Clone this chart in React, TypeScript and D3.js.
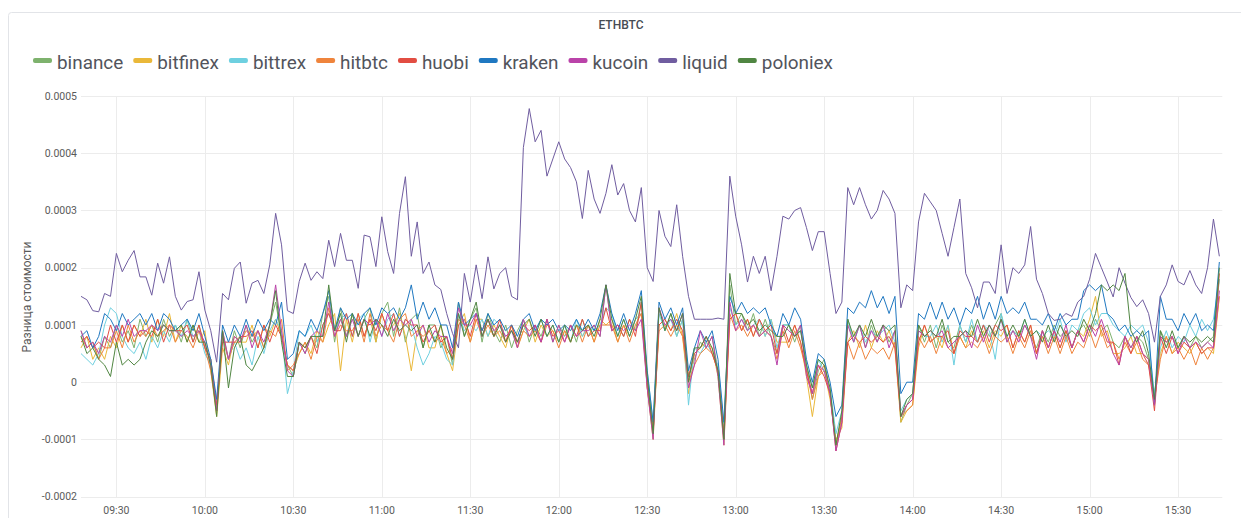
import React, { useEffect, useRef } from 'react';
import * as d3 from 'd3';

const W = 1241;
const H = 518;
const FONT = 'Roboto, "Helvetica Neue", Arial, sans-serif';

// sampled every 2 minutes from 09:18, values in units of 1e-5
const UNIT = 1e-5;
const startTime = new Date(2020, 0, 1, 9, 18);
const endTime = new Date(2020, 0, 1, 15, 45);
const stepMin = 2;

const seriesNames = ['binance', 'bitfinex', 'bittrex', 'hitbtc', 'huobi', 'kraken', 'kucoin', 'liquid', 'poloniex'];
const seriesColors = ['#7EB26D', '#EAB839', '#6ED0E0', '#EF843C', '#E24D42', '#1F78C1', '#BA43A9', '#705DA0', '#508642'];

const binance = [
  9,6,7,4,8,6,10,7,9,6,11,8,10,7,11,8,10,7,11,7,
  10,6,4,-5,9,4,9,6,10,7,9,6,10,14,8,3,1,7,5,8,
  6,12,15,7,13,8,12,8,11,13,7,12,14,8,13,7,11,12,6,10,
  10,6,8,3,14,8,11,13,7,12,9,7,10,6,9,11,7,10,8,11,
  7,10,8,10,7,11,8,10,8,17,9,10,8,11,9,14,1,-9,13,9,
  12,8,11,1,4,7,6,8,2,-10,17,10,12,9,12,8,11,8,5,10,
  10,7,10,3,-3,2,4,-2,-11,-6,11,7,10,6,10,7,10,7,9,-7,
  -4,-2,10,7,10,6,10,7,6,10,7,10,7,10,8,10,12,7,9,8,
  10,8,6,9,7,10,8,9,6,9,10,8,11,9,10,7,6,8,6,8,
  7,4,-3,9,7,8,6,8,6,8,6,7,8,18,
];
const bitfinex = [
  6,8,4,6,4,8,6,10,7,10,8,11,7,11,8,12,7,10,7,10,
  7,9,2,-6,6,3,8,7,7,10,6,10,8,11,8,3,2,5,7,5,
  9,7,10,12,2,11,7,12,8,11,7,12,9,10,12,8,2,9,10,6,
  6,10,5,2,10,12,7,11,11,8,10,8,6,10,6,9,11,7,10,8,
  9,7,9,7,10,8,10,7,11,10,11,7,10,8,11,12,-1,-10,10,11,
  9,12,8,-2,5,6,7,6,1,-11,11,12,9,11,8,11,8,11,7,7,
  7,10,7,1,-6,1,2,-3,-10,-8,7,9,6,10,6,9,7,9,6,-7,
  -5,-4,6,10,7,8,6,10,5,8,6,9,7,9,6,9,8,10,6,9,
  7,10,5,8,6,9,6,9,6,9,8,11,15,8,9,5,5,6,8,5,
  5,4,-3,5,8,5,7,6,5,7,5,6,5,15,
];
const bittrex = [
  5,4,3,5,10,13,12,8,6,5,7,4,8,6,9,7,10,8,11,8,
  9,5,3,-4,8,4,7,4,6,3,8,5,9,11,9,-2,2,9,8,10,
  7,10,12,9,11,12,8,11,12,7,11,8,11,12,8,11,10,6,3,5,
  8,7,4,3,12,9,10,9,11,8,11,10,8,9,7,10,8,9,11,8,
  10,7,10,7,11,8,10,9,10,13,12,8,11,8,11,12,2,-7,12,9,
  11,8,11,-4,6,5,7,5,3,-8,13,10,11,9,10,11,8,11,6,10,
  10,8,9,3,-1,4,2,-1,-9,-5,11,7,10,7,9,8,9,10,7,-5,
  -3,-2,9,8,8,10,7,10,3,10,7,11,7,10,9,4,12,8,9,8,
  11,8,9,8,9,8,11,7,10,9,12,13,10,12,12,10,9,8,10,9,
  10,7,-2,6,9,6,8,7,10,8,11,9,11,18,
];
const hitbtc = [
  8,6,7,4,6,6,9,6,10,7,9,8,10,8,9,10,7,9,8,6,
  9,6,2,-5,8,4,7,7,9,8,9,6,9,8,11,2,3,5,7,4,
  8,7,13,8,10,9,9,11,7,12,8,10,9,7,11,12,8,9,8,9,
  7,8,5,6,11,10,7,11,8,10,8,9,7,10,6,9,8,9,7,10,
  9,6,9,7,10,7,10,7,10,10,10,7,10,7,10,12,0,-8,9,10,
  8,10,8,0,3,5,6,5,2,-10,12,9,10,8,10,8,9,8,4,9,
  6,9,6,2,-3,1,3,-2,-11,-6,7,4,7,4,6,5,6,4,7,-6,
  -5,-4,8,6,8,5,8,6,5,8,6,7,6,8,5,8,7,8,5,8,
  6,9,5,8,5,8,5,8,5,7,6,9,6,9,6,7,4,7,5,7,
  4,3,-3,4,8,5,6,4,6,3,6,4,6,15,
];
const huobi = [
  7,8,6,7,6,10,7,10,7,10,8,9,8,11,7,10,9,9,10,7,
  10,6,4,-4,7,7,7,8,8,9,6,10,7,10,8,3,2,7,6,8,
  5,10,12,9,9,12,8,12,8,11,9,12,9,12,8,11,10,10,7,9,
  10,7,8,4,10,11,8,12,9,11,8,11,7,10,7,10,9,10,7,11,
  8,9,7,10,8,11,8,9,9,13,9,10,8,11,8,14,-1,-9,10,11,
  9,11,9,1,5,6,8,5,2,-9,11,12,9,11,8,11,9,10,5,10,
  7,10,7,2,-2,3,1,-2,-12,-7,7,8,7,8,7,8,7,8,6,-6,
  -4,-3,7,10,7,8,8,9,5,9,8,8,7,10,7,10,9,10,6,9,
  7,10,5,9,6,9,6,9,6,9,7,10,9,10,7,7,3,8,5,8,
  5,3,-5,8,5,8,5,7,6,7,5,6,6,19,
];
const kraken = [
  8,9,6,8,12,11,9,12,10,11,12,10,12,9,12,11,9,10,11,9,
  12,8,4,-3,10,7,10,8,11,8,11,9,11,10,14,4,5,9,8,11,
  9,12,16,9,13,11,12,10,12,13,10,13,12,13,11,13,17,11,14,11,
  13,10,10,6,14,10,11,12,9,12,10,11,9,10,8,11,12,9,11,10,
  11,9,10,9,11,9,11,9,12,17,12,9,12,9,12,16,2,-7,14,11,
  13,10,13,2,6,9,7,9,4,-7,15,12,14,12,13,12,13,10,8,12,
  10,13,11,4,0,5,4,0,-6,-4,13,12,14,13,16,13,15,12,15,-2,
  0,0,12,11,14,11,14,11,13,10,13,12,15,11,14,11,15,12,13,12,
  14,11,11,10,12,9,12,10,11,11,16,17,16,17,12,11,9,10,8,9,
  8,9,-4,15,11,11,9,12,10,12,9,10,9,21,
];
const kucoin = [
  9,6,7,5,8,7,10,8,11,8,9,9,10,9,10,9,9,8,9,8,
  9,7,3,-5,9,4,8,7,10,6,9,7,10,17,9,2,1,7,5,8,
  9,8,14,8,11,8,11,8,11,10,11,8,12,9,11,10,11,8,10,7,
  9,8,8,5,13,10,10,12,8,11,9,10,8,9,6,11,8,10,7,11,
  7,10,7,10,8,9,9,10,8,17,9,10,9,10,9,11,-1,-10,13,10,
  11,9,12,-1,3,9,6,8,1,-11,14,9,11,9,10,8,9,8,3,10,
  9,8,10,1,-2,3,2,-2,-12,-7,10,7,10,6,9,7,10,6,9,-6,
  -4,-3,9,8,9,8,9,6,7,8,9,6,10,7,10,8,11,7,9,7,
  10,8,4,9,6,9,7,10,6,9,7,10,8,11,8,5,3,8,6,8,
  5,4,-4,8,7,8,5,8,6,7,6,7,6,16,
];
const liquid = [
  15,14.4,12.5,12.3,15.5,15,22.5,19.3,21.3,23,18.4,18.4,15.2,20.8,17.3,21.9,15,12.6,14.1,14.4,
  19.3,12.6,9,3.5,15.5,14.4,19.9,21,13.8,17.3,17.8,15.5,20.5,29.5,24,12.5,12,17.6,20.8,17.8,
  19.3,18.1,24.8,20.2,26,21.3,21.3,16.4,25.7,25.4,20.2,28.9,22.8,19,29.5,35.9,22,28,19,21,
  17,16.2,12,8.5,6,19,14,20.5,14.6,21.9,16.3,19,20,15,14.4,41,47.8,42,44,36,
  39,42,39,37.5,35,28.6,37,32,29.5,33,38,32.7,34.7,30,28,34,20,17.6,30,25.5,
  23.7,31,22,15,11,11,11,11,11.2,11,36,29,24,17.5,22,19,22,16,22,29,
  28.5,30,30.5,27,23,26.3,26.3,19,12,14,34,31,34,31,28.5,30,33.5,32,29.5,13,
  17,16,28,33,31.5,30,26,22,27,32,19,16.5,13,17.5,17.5,15.5,24,15.5,20,19,
  20.5,27.2,18,15.5,12,10.8,11,12,11.5,14,15,18,22.5,20,17.5,14.9,20,17.3,14.8,13.2,
  14.4,12,7,15,17,20.5,17.6,17,19.5,17,15.5,20,28.5,22,
];
const poloniex = [
  8,5,6,4,3,1,7,3,4,3,4,7,9,8,10,9,9,10,7,10,
  7,7,3,-6,9,-1,6,8,3,2,4,6,10,16,7,1,1,7,6,8,
  8,8,17,9,12,7,12,8,11,8,11,10,8,11,9,10,9,10,6,10,
  7,10,6,4,12,8,11,14,8,11,8,10,7,9,7,10,11,8,11,8,
  10,7,10,7,10,9,10,8,11,17,11,8,11,8,11,15,1,-9,13,9,
  12,9,12,0,6,6,8,6,2,-10,19,12,12,10,11,9,10,9,8,8,
  10,8,9,3,-1,4,3,-1,-11,-5,11,8,10,8,11,8,10,9,10,-6,
  -3,-2,10,8,9,8,11,7,8,8,9,8,11,8,10,8,11,8,10,8,
  11,8,9,7,10,7,10,8,9,8,11,9,12,17,16,17,16,19,9,7,
  9,5,-3,9,6,9,6,8,7,8,7,8,7,20,
];

const seriesValues = [binance, bitfinex, bittrex, hitbtc, huobi, kraken, kucoin, liquid, poloniex];

const yTicks = [0.0005, 0.0004, 0.0003, 0.0002, 0.0001, 0, -0.0001, -0.0002];
const yTickLabels = ['0.0005', '0.0004', '0.0003', '0.0002', '0.0001', '0', '-0.0001', '-0.0002'];

const App = () => {
  const svgRef = useRef(null);

  useEffect(() => {
    const svg = d3.select(svgRef.current);
    svg.selectAll('*').remove();

    svg.append('rect').attr('width', W).attr('height', H).attr('fill', '#ffffff');
    // panel box
    svg.append('rect')
      .attr('x', 8.5).attr('y', 12.5)
      .attr('width', W).attr('height', H)
      .attr('rx', 3)
      .attr('fill', '#ffffff')
      .attr('stroke', '#e2e4e8');

    svg.append('text')
      .attr('x', 621).attr('y', 29)
      .attr('text-anchor', 'middle')
      .attr('font-family', FONT)
      .attr('font-size', 12)
      .attr('font-weight', 500)
      .attr('fill', '#464c54')
      .text('ETHBTC');

    // legend
    let lx = 33;
    seriesNames.forEach((name, i) => {
      svg.append('rect')
        .attr('x', lx).attr('y', 58)
        .attr('width', 19).attr('height', 5)
        .attr('rx', 2)
        .attr('fill', seriesColors[i]);
      const t = svg.append('text')
        .attr('x', lx + 24).attr('y', 68.5)
        .attr('font-family', FONT)
        .attr('font-size', 18.9)
        .attr('fill', '#52545c')
        .text(name);
      const w = (t.node() as SVGTextElement).getComputedTextLength();
      lx = lx + 24 + w + 10;
    });

    const x = d3.scaleTime().domain([startTime, endTime]).range([81, 1222.3]);
    const y = d3.scaleLinear().domain([-0.0002, 0.0005]).range([496.7, 96]);

    const grid = svg.append('g');
    yTicks.forEach((v, i) => {
      grid.append('line')
        .attr('x1', 81).attr('x2', 1222.3)
        .attr('y1', Math.round(y(v)) + 0.5).attr('y2', Math.round(y(v)) + 0.5)
        .attr('stroke', '#ececec');
      grid.append('text')
        .attr('x', 77).attr('y', y(v))
        .attr('dy', '0.35em')
        .attr('text-anchor', 'end')
        .attr('font-family', FONT)
        .attr('font-size', 10.5)
        .attr('fill', '#5a5a5a')
        .text(yTickLabels[i]);
    });

    const xTicks = x.ticks(d3.timeMinute.every(30));
    const fmt = d3.timeFormat('%H:%M');
    xTicks.forEach((t) => {
      grid.append('line')
        .attr('x1', Math.round(x(t)) + 0.5).attr('x2', Math.round(x(t)) + 0.5)
        .attr('y1', 96).attr('y2', 497)
        .attr('stroke', '#ececec');
      grid.append('text')
        .attr('x', x(t)).attr('y', 514)
        .attr('text-anchor', 'middle')
        .attr('font-family', FONT)
        .attr('font-size', 10.5)
        .attr('fill', '#5a5a5a')
        .text(fmt(t));
    });

    svg.append('text')
      .attr('transform', 'translate(31,297) rotate(-90)')
      .attr('text-anchor', 'middle')
      .attr('font-family', FONT)
      .attr('font-size', 12)
      .attr('fill', '#5a5a5a')
      .text('Разница стоимости');

    const line = d3.line<number>()
      .x((_, i) => x(d3.timeMinute.offset(startTime, i * stepMin)))
      .y((d) => y(d * UNIT));

    const lines = svg.append('g');
    seriesValues.forEach((vals, i) => {
      lines.append('path')
        .attr('d', line(vals))
        .attr('fill', 'none')
        .attr('stroke', seriesColors[i])
        .attr('stroke-width', 1)
        .attr('stroke-linejoin', 'round');
    });
  }, []);

  return (
    <div style={{ position: 'absolute', left: 0, top: 0 }}>
      <svg ref={svgRef} width={W} height={H} style={{ display: 'block' }} />
    </div>
  );
};

export default App;
